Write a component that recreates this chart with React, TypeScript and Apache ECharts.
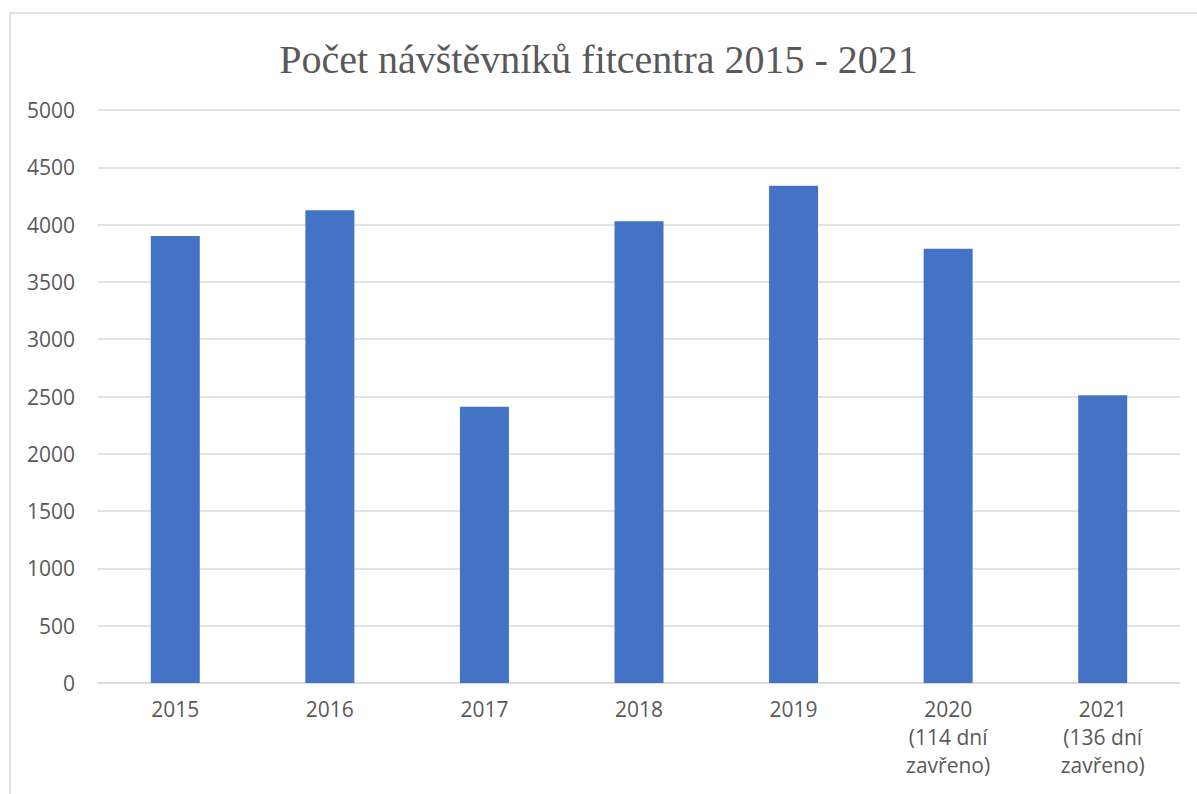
import React, { useEffect, useRef } from "react";
import * as echarts from "echarts";

const categories = ["2015", "2016", "2017", "2018", "2019", "2020\n(114 dní\nzavřeno)", "2021\n(136 dní\nzavřeno)"];
const visitors = [3900, 4125, 2410, 4030, 4340, 3790, 2510];
const titleText = "Počet návštěvníků fitcentra 2015 - 2021";

export default function App() {
  const ref = useRef<HTMLDivElement>(null);
  useEffect(() => {
    if (!ref.current) return;
    const chart = echarts.init(ref.current, null, { renderer: "svg" });
    chart.setOption({
      animation: false,
      backgroundColor: "#ffffff",
      title: {
        text: titleText,
        left: "center",
        top: 34,
        textStyle: {
          fontFamily: "Liberation Serif",
          fontSize: 40,
          fontWeight: "normal",
          color: "#595959",
        },
      },
      graphic: [
        {
          type: "rect",
          shape: { x: 10, y: 13, width: 1300, height: 900 },
          style: { fill: "none", stroke: "#d9d9d9", lineWidth: 1.5 },
          silent: true,
        },
      ],
      grid: { left: 98, right: 17, top: 110, bottom: 111 },
      xAxis: {
        type: "category",
        data: categories,
        axisLine: { lineStyle: { color: "#d9d9d9", width: 1.5 } },
        axisTick: { show: false },
        axisLabel: {
          fontFamily: "Open Sans",
          fontSize: 21,
          color: "#595959",
          lineHeight: 28,
          margin: 12,
          interval: 0,
        },
      },
      yAxis: {
        type: "value",
        min: 0,
        max: 5000,
        interval: 500,
        axisLine: { show: false },
        axisTick: { show: false },
        splitLine: { lineStyle: { color: "#d9d9d9", width: 1.5 } },
        axisLabel: {
          fontFamily: "Open Sans",
          fontSize: 21,
          color: "#595959",
          margin: 23,
          formatter: (v: number) => String(v),
        },
      },
      series: [
        {
          type: "bar",
          data: visitors,
          barWidth: 49,
          itemStyle: { color: "#4472C4" },
        },
      ],
    });
    return () => chart.dispose();
  }, []);
  return (
    <div
      ref={ref}
      style={{ position: "fixed", left: 0, top: 0, width: 1197, height: 794 }}
    />
  );
}
